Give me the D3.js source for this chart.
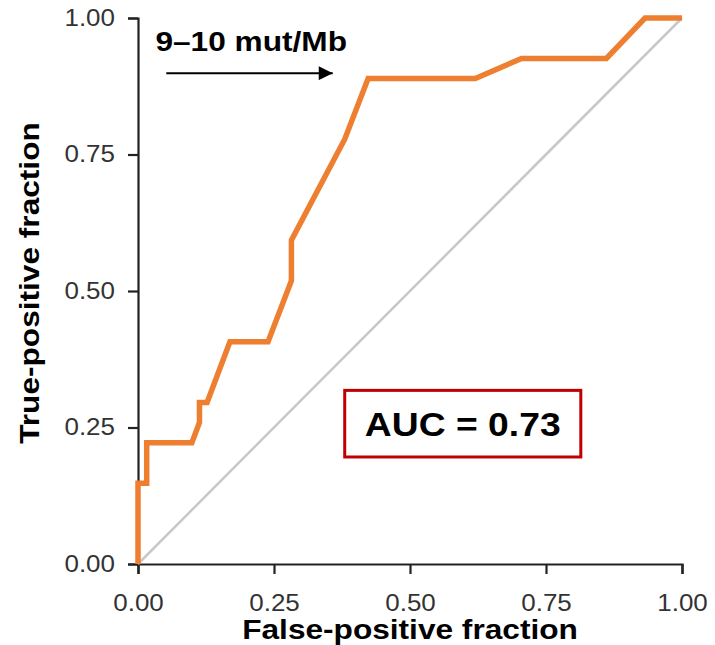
<!DOCTYPE html>
<html>
<head>
<meta charset="utf-8">
<script src="https://cdn.jsdelivr.net/npm/d3@7"></script>
<style>
  body { margin: 0; background: #fff; }
  text { font-family: "Liberation Sans", Arial, sans-serif; }
</style>
</head>
<body>
<div id="chart"></div>
<script>
// ROC curve points (false-positive fraction, true-positive fraction)
const fpf = [0, 0, 0.016, 0.016, 0.099, 0.113, 0.113, 0.127, 0.169, 0.239, 0.282, 0.282, 0.380, 0.423, 0.620, 0.705, 0.861, 0.932, 1];
const tpf = [0, 0.148, 0.148, 0.222, 0.222, 0.259, 0.296, 0.296, 0.407, 0.407, 0.519, 0.593, 0.778, 0.889, 0.889, 0.926, 0.926, 1, 1];
const ticks = [0, 0.25, 0.5, 0.75, 1];
const aucLabel = "AUC = 0.73";
const arrowLabel = "9–10 mut/Mb";

// the original text looks a little stretched sideways
const sx = 1.13;

const margin = {top: 18, right: 33, bottom: 81, left: 138},
  width = 715 - margin.left - margin.right,
  height = 645 - margin.top - margin.bottom;

const svg = d3.select("#chart")
  .append("svg")
  .attr("width", 715)
  .attr("height", 645);

const g = svg.append("g")
  .attr("transform", `translate(${margin.left},${margin.top})`);

const x = d3.scaleLinear().domain([0, 1]).range([0, width]);
const y = d3.scaleLinear().domain([0, 1]).range([height, 0]);

// axes
const xAxis = g.append("g")
  .attr("transform", `translate(0,${height})`)
  .call(d3.axisBottom(x).tickValues(ticks).tickFormat(d3.format(".2f")).tickSizeOuter(0).tickSize(10).tickPadding(21));
const yAxis = g.append("g")
  .call(d3.axisLeft(y).tickValues(ticks).tickFormat(d3.format(".2f")).tickSizeOuter(0).tickSize(10).tickPadding(12));

[xAxis, yAxis].forEach(a => {
  a.select(".domain").attr("stroke", "#222").attr("stroke-width", 2.2);
  a.selectAll(".tick line").attr("stroke", "#222").attr("stroke-width", 2.2);
  a.selectAll(".tick text")
    .attr("fill", "#333")
    .attr("transform", `scale(${sx},1)`)
    .style("font-size", "23px")
    .style("font-family", "Liberation Sans, Arial, sans-serif");
});
yAxis.selectAll(".tick text").attr("x", -23 / sx);

// chance diagonal
g.append("line")
  .attr("x1", x(0)).attr("y1", y(0))
  .attr("x2", x(1)).attr("y2", y(1))
  .attr("stroke", "#c8c8c8")
  .attr("stroke-width", 2.5);

// ROC curve
const pts = fpf.map((d, i) => [d, tpf[i]]);
const line = d3.line().x(d => x(d[0])).y(d => y(d[1]));
g.append("path")
  .datum(pts)
  .attr("fill", "none")
  .attr("stroke", "#EE7F30")
  .attr("stroke-width", 5.5)
  .attr("stroke-linejoin", "miter")
  .attr("d", line);

// arrow annotation
svg.append("defs").append("marker")
  .attr("id", "arrowhead")
  .attr("viewBox", "0 0 10 10")
  .attr("refX", 10).attr("refY", 5)
  .attr("markerWidth", 15).attr("markerHeight", 14)
  .attr("markerUnits", "userSpaceOnUse")
  .attr("orient", "auto")
  .append("path")
  .attr("d", "M0,0 L10,5 L0,10 Z")
  .attr("fill", "#000");

g.append("line")
  .attr("x1", x(0.052)).attr("y1", y(0.899))
  .attr("x2", x(0.358)).attr("y2", y(0.899))
  .attr("stroke", "#000")
  .attr("stroke-width", 2)
  .attr("marker-end", "url(#arrowhead)");

g.append("text")
  .attr("transform", `translate(${x(0.032)},${y(0.939)}) scale(${sx},1)`)
  .style("font-size", "28px")
  .style("font-weight", "bold")
  .attr("fill", "#000")
  .text(arrowLabel);

// AUC box
const boxG = g.append("g");
boxG.append("rect")
  .attr("x", x(0.38)).attr("y", y(0.318))
  .attr("width", x(0.814) - x(0.38))
  .attr("height", y(0.196) - y(0.318))
  .attr("fill", "#fff")
  .attr("stroke", "#C00000")
  .attr("stroke-width", 3);
boxG.append("text")
  .attr("transform", `translate(${x(0.597)},${y(0.235)}) scale(${sx},1)`)
  .attr("text-anchor", "middle")
  .style("font-size", "33px")
  .style("font-weight", "bold")
  .attr("fill", "#000")
  .text(aucLabel);

// axis titles
svg.append("text")
  .attr("transform", `translate(${margin.left + width / 2},639) scale(${sx},1)`)
  .attr("text-anchor", "middle")
  .style("font-size", "28px")
  .style("font-weight", "bold")
  .text("False-positive fraction");

svg.append("text")
  .attr("transform", `translate(39,283) rotate(-90) scale(${sx},1)`)
  .attr("text-anchor", "middle")
  .style("font-size", "28px")
  .style("font-weight", "bold")
  .text("True-positive fraction");
</script>
</body>
</html>
